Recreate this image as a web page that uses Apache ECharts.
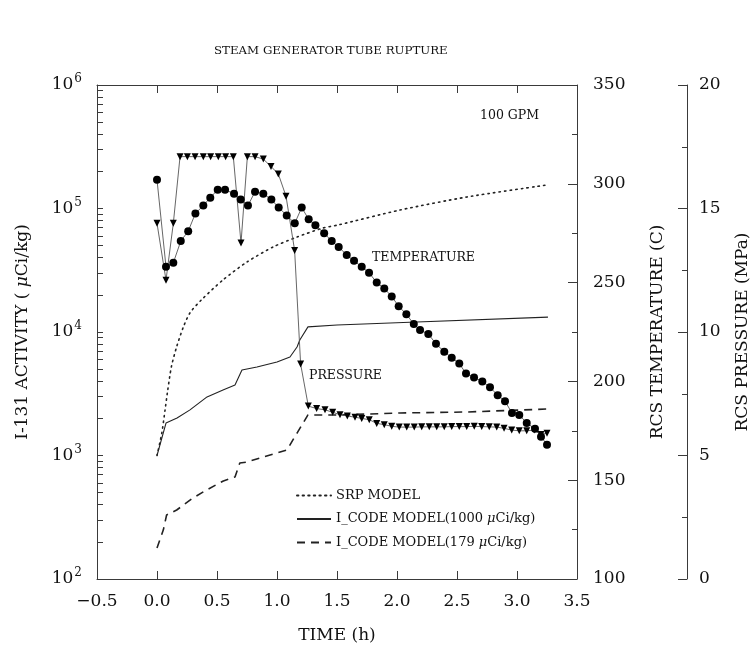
<!DOCTYPE html>
<html>
<head>
<meta charset="utf-8">
<script src="https://cdn.jsdelivr.net/npm/echarts@6/dist/echarts.min.js"></script>
<style>
html,body{margin:0;padding:0;background:#fff;}
#chart{width:750px;height:651px;}
</style>
</head>
<body>
<div id="chart"></div>
<script>
// ---- data ----
const titleText = 'STEAM GENERATOR TUBE RUPTURE';
const logMajorTicks = [100, 1000, 10000, 100000, 1000000];
const logAllTicks = [100,200,300,400,500,600,700,800,900,1000,2000,3000,4000,5000,6000,7000,8000,9000,10000,
  20000,30000,40000,50000,60000,70000,80000,90000,100000,200000,300000,400000,500000,600000,700000,800000,900000,1000000];

// SRP MODEL (I-131 activity, uCi/kg)
const srpTime = [0, 0.04, 0.067, 0.086, 0.12, 0.164, 0.22, 0.275, 0.37, 0.55, 0.75, 0.967, 1.167, 1.383, 1.508, 2.025, 2.583, 3.25];
const srpAct  = [1000, 1520, 2330, 3200, 5240, 7600, 11000, 14300, 18200, 26400, 36900, 48800, 58800, 69500, 73500, 97200, 124000, 155000];

// I_CODE MODEL (1000 uCi/kg)
const ic1000Time = [0, 0.075, 0.167, 0.275, 0.417, 0.55, 0.65, 0.708, 0.833, 1.0, 1.108, 1.167, 1.19, 1.258, 1.5, 2.108, 3.258];
const ic1000Act  = [1000, 1830, 2010, 2340, 2980, 3390, 3720, 4920, 5210, 5720, 6280, 7560, 8610, 11000, 11400, 12000, 13200];

// I_CODE MODEL (179 uCi/kg)
const ic179Time = [0, 0.053, 0.08, 0.164, 0.3, 0.414, 0.553, 0.65, 0.69, 0.747, 0.97, 1.083, 1.167, 1.258, 1.525, 2.025, 2.583, 3.258];
const ic179Act  = [178, 250, 330, 362, 453, 526, 622, 670, 869, 885, 1030, 1110, 1520, 2130, 2130, 2210, 2250, 2380];

// RCS temperature (C)
const tempTime = [0.0, 0.075, 0.136, 0.198, 0.26, 0.32, 0.386, 0.444, 0.506, 0.567, 0.642, 0.698, 0.758, 0.817, 0.886, 0.953, 1.014, 1.081, 1.148, 1.206, 1.264, 1.32, 1.393, 1.456, 1.514, 1.581, 1.642, 1.706, 1.767, 1.831, 1.894, 1.956, 2.014, 2.078, 2.14, 2.192, 2.261, 2.325, 2.394, 2.456, 2.519, 2.575, 2.642, 2.711, 2.775, 2.839, 2.9, 2.958, 3.019, 3.081, 3.15, 3.2, 3.25];
const tempVal  = [302, 258, 260, 271, 276, 285, 289, 293, 297, 297, 295, 292, 289, 296, 295, 292, 288, 284, 280, 288, 282, 279, 275, 271, 268, 264, 261, 258, 255, 250, 247, 243, 238, 234, 229, 226, 224, 219, 215, 212, 209, 204, 202, 200, 197, 193, 190, 184, 183, 179, 176, 172, 168];

// RCS pressure (MPa)
const presTime = [0, 0.075, 0.136, 0.192, 0.253, 0.317, 0.386, 0.447, 0.511, 0.572, 0.636, 0.7, 0.753, 0.817, 0.886, 0.95, 1.011, 1.075, 1.147, 1.197, 1.261, 1.33, 1.4, 1.464, 1.525, 1.586, 1.65, 1.706, 1.769, 1.831, 1.894, 1.956, 2.019, 2.081, 2.144, 2.206, 2.269, 2.331, 2.394, 2.456, 2.519, 2.581, 2.644, 2.706, 2.769, 2.831, 2.892, 2.956, 3.019, 3.081, 3.144, 3.2, 3.25];
const presVal  = [14.4, 12.1, 14.4, 17.1, 17.1, 17.1, 17.1, 17.1, 17.1, 17.1, 17.1, 13.6, 17.1, 17.1, 17.0, 16.7, 16.4, 15.5, 13.3, 8.7, 7.0, 6.9, 6.85, 6.75, 6.65, 6.6, 6.55, 6.5, 6.45, 6.3, 6.25, 6.18, 6.15, 6.15, 6.15, 6.16, 6.16, 6.16, 6.16, 6.17, 6.17, 6.17, 6.18, 6.17, 6.16, 6.15, 6.1, 6.03, 6.0, 6.0, 6.03, 5.85, 5.9];

const legendNames = ['SRP MODEL', 'I_CODE MODEL(1000 μCi/kg)', 'I_CODE MODEL(179 μCi/kg)'];

// ---- chart ----
const FONT = 'DejaVu Serif';
const INK = '#111';
const AX = '#3a3a3a';
const pair = (xs, ys) => xs.map((x, i) => [x, ys[i]]);

const chart = echarts.init(document.getElementById('chart'), null, {renderer: 'canvas'});

const baseY = {
  axisLine: {show: true, onZero: false, lineStyle: {color: AX, width: 1}},
  splitLine: {show: false},
  nameLocation: 'middle',
  nameTextStyle: {fontFamily: FONT, fontSize: 17, color: INK},
  axisLabel: {fontFamily: FONT, fontSize: 17, color: INK}
};

chart.setOption({
  animation: false,
  backgroundColor: '#fff',
  title: {
    text: titleText, left: 209, top: 40,
    textStyle: {fontFamily: FONT, fontSize: 11.8, fontWeight: 'normal', color: INK}
  },
  grid: {left: 97, right: 173, top: 85, bottom: 72, containLabel: false, outerBoundsMode: 'none'},
  legend: {
    data: legendNames,
    left: 291, top: 484, orient: 'vertical', itemGap: 10.5,
    itemWidth: 34, itemHeight: 14,
    itemStyle: {opacity: 0},
    textStyle: {fontFamily: FONT, fontSize: 13, color: INK,
      rich: {m: {fontFamily: FONT, fontSize: 13, fontStyle: 'italic', color: INK}, n: {fontFamily: FONT, fontSize: 13, color: INK}}},
    formatter: function (name) {
      return name.replace(/^(.*?)(μ)(.*)$/, '{n|$1}{m|$2}{n|$3}');
    }
  },
  xAxis: [
    {
      type: 'value', position: 'bottom', min: -0.5, max: 3.5, interval: 0.5,
      axisLine: {show: true, onZero: false, lineStyle: {color: AX, width: 1}},
      axisTick: {show: true, inside: true, length: 8, lineStyle: {color: AX}},
      splitLine: {show: false},
      axisLabel: {fontFamily: FONT, fontSize: 17, color: INK, margin: 14,
        formatter: v => v.toFixed(1).replace('-', '−')},
      name: 'TIME (h)', nameLocation: 'middle', nameGap: 48,
      nameTextStyle: {fontFamily: FONT, fontSize: 17, color: INK}
    },
    {
      type: 'value', position: 'top', min: -0.5, max: 3.5, interval: 0.5,
      axisLine: {show: true, onZero: false, lineStyle: {color: AX, width: 1}},
      axisTick: {show: true, inside: true, length: 8, lineStyle: {color: AX}},
      axisLabel: {show: false}, splitLine: {show: false}
    }
  ],
  yAxis: [
    Object.assign({}, baseY, {
      type: 'log', logBase: 10, min: 100, max: 1000000, splitNumber: 4, position: 'left',
      axisTick: {show: true, inside: true, length: 6, lineStyle: {color: AX}, customValues: logAllTicks},
      axisLabel: {
        margin: 15,
        customValues: logMajorTicks,
        formatter: v => '{b|10}{s|' + Math.round(Math.log10(v)) + '}',
        rich: {
          b: {fontFamily: FONT, fontSize: 17, color: INK},
          s: {fontFamily: FONT, fontSize: 12, color: INK, padding: [0, 0, 12, 1]}
        }
      },
      name: 'I-131 ACTIVITY ( {m|μ}Ci/kg)', nameGap: 66,
      nameTextStyle: {fontFamily: FONT, fontSize: 17, color: INK,
        rich: {m: {fontFamily: FONT, fontSize: 17, fontStyle: 'italic', color: INK}}}
    }),
    Object.assign({}, baseY, {
      type: 'value', min: 100, max: 350, interval: 50, position: 'right', offset: 0,
      axisTick: {show: true, inside: true, length: 9, lineStyle: {color: AX}},
      minorTick: {show: true, splitNumber: 2, length: 5, lineStyle: {color: AX}},
      axisLabel: {fontFamily: FONT, fontSize: 17, color: INK, margin: 16},
      name: 'RCS TEMPERATURE (C)', nameGap: 72, nameRotate: 90
    }),
    Object.assign({}, baseY, {
      type: 'value', min: 0, max: 20, interval: 5, position: 'right', offset: 110,
      axisTick: {show: true, inside: true, length: 9, lineStyle: {color: AX}},
      minorTick: {show: true, splitNumber: 2, length: 5, lineStyle: {color: AX}},
      axisLabel: {fontFamily: FONT, fontSize: 17, color: INK, margin: 12},
      name: 'RCS PRESSURE (MPa)', nameGap: 47, nameRotate: 90
    })
  ],
  series: [
    {
      name: legendNames[0], type: 'line', xAxisIndex: 0, yAxisIndex: 0,
      data: pair(srpTime, srpAct), symbol: 'none', smooth: 0.25,
      itemStyle: {color: '#222'},
      lineStyle: {color: '#222', width: 1.6, type: [1.4, 4.2], cap: 'round'}
    },
    {
      name: legendNames[1], type: 'line', xAxisIndex: 0, yAxisIndex: 0,
      data: pair(ic1000Time, ic1000Act), symbol: 'none',
      itemStyle: {color: '#222'},
      lineStyle: {color: '#222', width: 1.1, type: 'solid'}
    },
    {
      name: legendNames[2], type: 'line', xAxisIndex: 0, yAxisIndex: 0,
      data: pair(ic179Time, ic179Act), symbol: 'none',
      itemStyle: {color: '#222'},
      lineStyle: {color: '#222', width: 1.6, type: [8, 6]}
    },
    {
      name: 'TEMPERATURE', type: 'line', xAxisIndex: 0, yAxisIndex: 1,
      data: pair(tempTime, tempVal), symbol: 'circle', symbolSize: 8,
      itemStyle: {color: '#000'}, lineStyle: {color: '#555', width: 0.9}, z: 5
    },
    {
      name: 'PRESSURE', type: 'line', xAxisIndex: 0, yAxisIndex: 2,
      data: pair(presTime, presVal), symbol: 'triangle', symbolRotate: 180, symbolSize: 7,
      itemStyle: {color: '#000'}, lineStyle: {color: '#555', width: 0.9}, z: 5
    }
  ],
  graphic: [
    {type: 'text', left: 480, top: 109, style: {text: '100 GPM', fontFamily: FONT, fontSize: 12.5, fill: INK}},
    {type: 'text', left: 372, top: 251, style: {text: 'TEMPERATURE', fontFamily: FONT, fontSize: 12.5, fill: INK}},
    {type: 'text', left: 309, top: 369, style: {text: 'PRESSURE', fontFamily: FONT, fontSize: 12.5, fill: INK}}
  ]
});
</script>
</body>
</html>
